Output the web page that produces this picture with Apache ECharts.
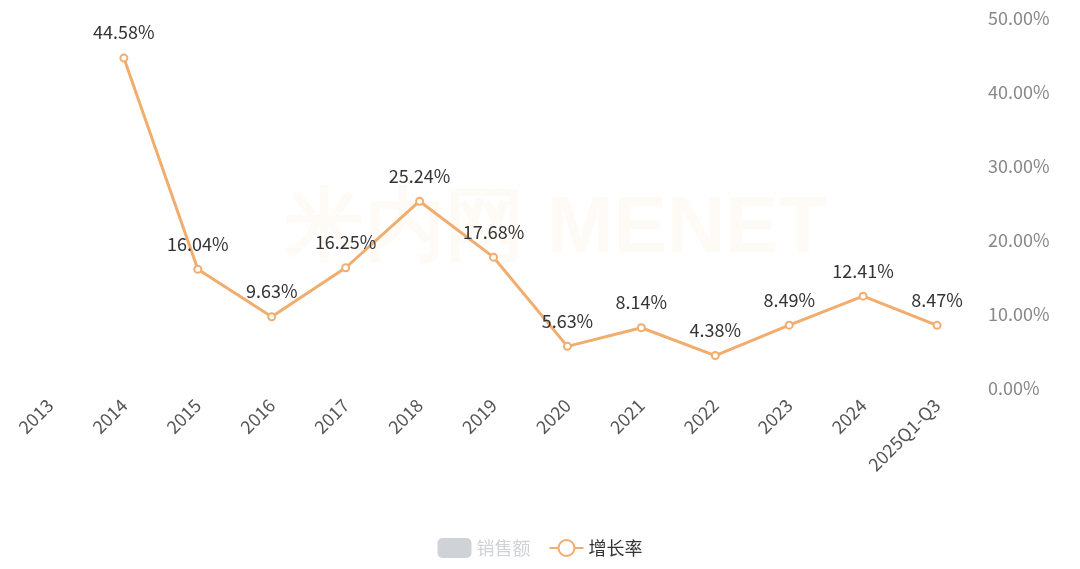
<!DOCTYPE html>
<html>
<head>
    <meta charset="utf-8">
    <title>增长率</title>
    <script src="https://cdn.jsdelivr.net/npm/echarts@6/dist/echarts.min.js"></script>
    <style>
        html, body { margin: 0; padding: 0; background: #fff; }
        #chart { width: 1080px; height: 569px; }
    </style>
</head>
<body>
    <div id="chart"></div>
    <script>
        var categories = ['2013', '2014', '2015', '2016', '2017', '2018', '2019', '2020', '2021', '2022', '2023', '2024', '2025Q1-Q3'];
        var sales = ['-', '-', '-', '-', '-', '-', '-', '-', '-', '-', '-', '-', '-'];
        var growth = ['-', 44.58, 16.04, 9.63, 16.25, 25.24, 17.68, 5.63, 8.14, 4.38, 8.49, 12.41, 8.47];

        var chart = echarts.init(document.getElementById('chart'));
        var option = {
            textStyle: { fontFamily: 'Noto Sans CJK SC' },
            graphic: [{
                type: 'text', left: 285, top: 190, silent: true,
                style: { text: '米内网 MENET', fontSize: 80, fontWeight: 'bold', fill: 'rgba(240,173,110,0.06)' }
            }],
            legend: {
                bottom: 6,
                left: 'center',
                itemGap: 18,
                itemWidth: 34,
                itemHeight: 20,
                textStyle: { fontSize: 18, color: '#333' },
                selected: { '销售额': false },
                data: [
                    { name: '销售额', icon: 'roundRect' },
                    { name: '增长率' }
                ]
            },
            grid: { left: 13, right: 106, top: 18, bottom: 181 },
            xAxis: {
                type: 'category',
                data: categories,
                axisLine: { show: false },
                axisTick: { show: false },
                axisLabel: { rotate: 45, fontSize: 18, color: '#555', interval: 0, margin: 14 }
            },
            yAxis: [
                { type: 'value', show: false },
                {
                    type: 'value',
                    position: 'right',
                    min: 0, max: 50, interval: 10,
                    splitLine: { show: false },
                    axisLine: { show: false },
                    axisTick: { show: false },
                    axisLabel: { fontSize: 18, color: '#888', margin: 14, formatter: function (v) { return v.toFixed(2) + '%'; } }
                }
            ],
            series: [
                {
                    name: '销售额', type: 'bar', data: sales,
                    itemStyle: { color: '#ccc' }
                },
                {
                    name: '增长率', type: 'line', yAxisIndex: 1, data: growth,
                    symbol: 'circle', symbolSize: 7,
                    lineStyle: { color: '#F0AD6E', width: 3 },
                    itemStyle: { color: '#fff', borderColor: '#F0AD6E', borderWidth: 2 },
                    label: {
                        show: true, position: 'top', distance: 12, fontSize: 18, color: '#333',
                        formatter: function (p) { return p.value.toFixed(2) + '%'; }
                    }
                }
            ]
        };
        chart.setOption(option);
    </script>
</body>
</html>
